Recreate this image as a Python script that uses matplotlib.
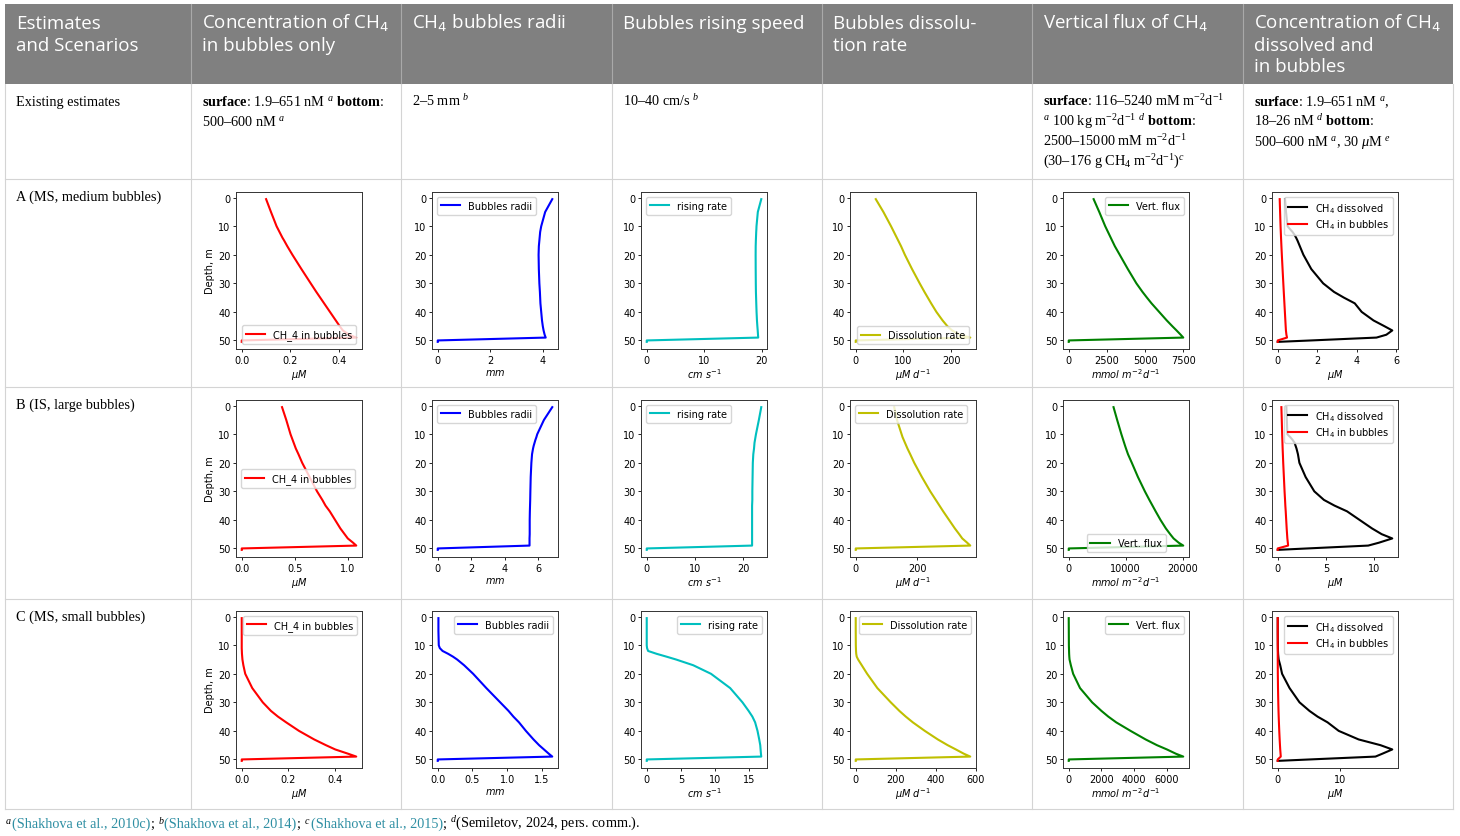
import matplotlib.pyplot as plt

plt.rcParams['mathtext.rm'] = 'Liberation Serif'
plt.rcParams['mathtext.it'] = 'Liberation Serif:italic'
plt.rcParams['mathtext.bf'] = 'Liberation Serif:bold'

# depth grid shared by all profiles, m
depth = [0.5, 5, 10, 11, 12, 13, 14, 15, 17, 20, 25, 30, 33, 35, 37, 40, 43, 45, 46.5, 48, 49, 50, 50.5]

# scenario A (MS, medium bubbles)
a_ch4 = [0.10, 0.12, 0.143, 0.149, 0.155, 0.161, 0.167, 0.174, 0.187, 0.208, 0.245, 0.283, 0.306, 0.322, 0.338, 0.362, 0.386, 0.402, 0.415, 0.44, 0.47, 0.0, 0.0]
a_radii = [4.35, 4.08, 3.93, 3.91, 3.89, 3.88, 3.87, 3.86, 3.84, 3.83, 3.84, 3.86, 3.88, 3.89, 3.90, 3.93, 3.96, 3.99, 4.02, 4.06, 4.10, 0.0, 0.0]
a_rise = [19.9, 19.3, 19.07, 19.05, 19.02, 19.0, 18.98, 18.96, 18.93, 18.92, 18.93, 18.95, 18.97, 19.0, 19.03, 19.08, 19.15, 19.22, 19.28, 19.33, 19.37, 0.0, 0.0]
a_diss = [42, 58, 74, 77, 80, 83, 86, 89, 95, 103, 118, 134, 144, 151, 158, 169, 182, 192, 202, 218, 240, 0, 0]
a_flux = [1630, 2000, 2390, 2480, 2570, 2660, 2750, 2840, 3020, 3340, 3870, 4430, 4830, 5120, 5420, 5920, 6420, 6780, 7060, 7330, 7500, 0, 0]
a_dissolved = [0.37, 0.42, 0.50, 0.62, 0.75, 0.85, 0.93, 1.0, 1.12, 1.30, 1.70, 2.30, 2.85, 3.35, 3.90, 4.25, 4.85, 5.40, 5.80, 5.50, 5.00, 1.70, 0.0]

# scenario B (IS, large bubbles)
b_ch4 = [0.38, 0.42, 0.46, 0.47, 0.48, 0.49, 0.50, 0.51, 0.535, 0.57, 0.64, 0.71, 0.76, 0.79, 0.83, 0.88, 0.93, 0.97, 1.00, 1.05, 1.08, 0.0, 0.0]
b_radii = [6.85, 6.35, 5.95, 5.90, 5.84, 5.79, 5.74, 5.70, 5.64, 5.60, 5.56, 5.54, 5.53, 5.52, 5.51, 5.50, 5.50, 5.50, 5.49, 5.49, 5.49, 0.0, 0.0]
b_rise = [23.7, 23.2, 22.6, 22.5, 22.4, 22.3, 22.25, 22.2, 22.05, 21.95, 21.9, 21.85, 21.85, 21.8, 21.8, 21.8, 21.8, 21.8, 21.8, 21.8, 21.8, 0.0, 0.0]
b_diss = [125, 134, 149, 152, 156, 160, 164, 168, 177, 190, 215, 242, 260, 272, 284, 303, 322, 336, 346, 362, 372, 0, 0]
b_flux = [7860, 8500, 9240, 9400, 9560, 9720, 9880, 10050, 10400, 11070, 12150, 13360, 14150, 14700, 15250, 16100, 17050, 17800, 18400, 19300, 20100, 0, 0]
b_dissolved = [0.90, 0.95, 1.00, 1.30, 1.55, 1.75, 1.85, 1.95, 2.10, 2.25, 2.90, 3.80, 4.80, 5.90, 7.20, 8.50, 9.80, 10.80, 11.90, 10.50, 9.40, 3.10, 0.0]

# scenario C (MS, small bubbles)
c_ch4 = [0.0, 0.0, 0.0, 0.0, 0.0005, 0.001, 0.002, 0.003, 0.007, 0.015, 0.045, 0.09, 0.125, 0.155, 0.19, 0.245, 0.31, 0.36, 0.40, 0.455, 0.49, 0.0, 0.0]
c_radii = [0.01, 0.01, 0.015, 0.03, 0.07, 0.15, 0.22, 0.28, 0.38, 0.51, 0.70, 0.90, 1.02, 1.09, 1.17, 1.27, 1.38, 1.46, 1.53, 1.60, 1.65, 0.0, 0.0]
c_rise = [0.0, 0.0, 0.0, 0.05, 0.2, 1.45, 2.9, 4.3, 6.8, 9.4, 12.2, 14.0, 14.9, 15.45, 15.85, 16.2, 16.45, 16.6, 16.65, 16.7, 16.75, 0.0, 0.0]
c_diss = [0, 0, 0.5, 1, 1.5, 2.5, 5, 12, 30, 57, 108, 175, 218, 250, 285, 345, 410, 459, 500, 540, 572, 0, 0]
c_flux = [0, 5, 10, 15, 20, 25, 35, 50, 130, 270, 690, 1430, 2000, 2420, 2900, 3780, 4700, 5390, 6000, 6550, 7000, 0, 0]
c_dissolved = [0.0, 0.0, 0.02, 0.03, 0.04, 0.06, 0.10, 0.15, 0.40, 0.70, 1.90, 3.50, 5.10, 6.40, 8.00, 9.80, 13.00, 16.50, 18.40, 16.80, 15.70, 5.20, 0.0]

profiles = [
    [a_ch4, a_radii, a_rise, a_diss, a_flux, a_dissolved],
    [b_ch4, b_radii, b_rise, b_diss, b_flux, b_dissolved],
    [c_ch4, c_radii, c_rise, c_diss, c_flux, c_dissolved],
]

xticks = [
    [[0.0, 0.2, 0.4], [0, 2, 4], [0, 10, 20], [0, 100, 200], [0, 2500, 5000, 7500], [0, 2, 4, 6]],
    [[0.0, 0.5, 1.0], [0, 2, 4, 6], [0, 10, 20], [0, 200], [0, 10000, 20000], [0, 5, 10]],
    [[0.0, 0.2, 0.4], [0.0, 0.5, 1.0, 1.5], [0, 5, 10, 15], [0, 200, 400, 600], [0, 2000, 4000, 6000], [0, 10]],
]
legend_locs = [
    ['lower center', 'upper left', 'upper left', 'lower center', 'upper right', 'upper right'],
    ['center left', 'upper left', 'upper left', 'upper left', 'lower center', 'upper right'],
    ['upper right'] * 6,
]

line_colors = ['r', 'b', 'c', 'y', 'g']
line_labels = ['CH_4 in bubbles', 'Bubbles radii', 'rising rate', 'Dissolution rate', 'Vert. flux']
xlabels = [r'$\mu M$', r'$mm$', r'$cm\ s^{-1}$', r'$\mu M\ d^{-1}$', r'$mmol\ m^{-2}d^{-1}$', r'$\mu M$']

headers = [
    ['Estimates', 'and Scenarios'],
    ['Concentration of CH$_4$', 'in bubbles only'],
    ['CH$_4$ bubbles radii'],
    ['Bubbles rising speed'],
    ['Bubbles dissolu-', 'tion rate'],
    ['Vertical flux of CH$_4$'],
    ['Concentration of CH$_4$', 'dissolved and', 'in bubbles'],
]
row_labels = ['Existing estimates', 'A (MS, medium bubbles)', 'B (IS, large bubbles)', 'C (MS, small bubbles)']
existing = [
    [r'$\mathbf{surface}$: 1.9–651 nM $^{a}$ $\mathbf{bottom}$:', r'500–600 nM $^{a}$'],
    [r'2–5 mm $^{b}$'],
    [r'10–40 cm/s $^{b}$'],
    [],
    [r'$\mathbf{surface}$: 116–5240 mM m$^{-2}$d$^{-1}$',
     r'$^{a}$ 100 kg m$^{-2}$d$^{-1}$ $^{d}$ $\mathbf{bottom}$:',
     r'2500–15000 mM m$^{-2}$d$^{-1}$',
     r'(30–176 g CH$_4$ m$^{-2}$d$^{-1}$)$^{c}$'],
    [r'$\mathbf{surface}$: 1.9–651 nM $^{a}$,', r'18–26 nM $^{d}$ $\mathbf{bottom}$:',
     r'500–600 nM $^{a}$, 30 $\mu$M $^{e}$'],
]
teal = '#2f8fa3'
footnote = [('$^{a}$', 'k'), ('(Shakhova et al., 2010c)', teal), (';', 'k'),
            ('$^{b}$', 'k'), ('(Shakhova et al., 2014)', teal), (';', 'k'),
            ('$^{c}$', 'k'), ('(Shakhova et al., 2015)', teal), (';', 'k'),
            ('$^{d}$(Semiletov, 2024, pers. comm.).', 'k')]

W, H = 1460, 837
fig = plt.figure(figsize=(W / 100, H / 100), dpi=100)

# table background drawn in pixel coordinates
tab = fig.add_axes([0, 0, 1, 1])
tab.set_xlim(0, W)
tab.set_ylim(H, 0)
tab.axis('off')

col_x = [5, 191, 401, 612, 822, 1032, 1243, 1453]
row_y = [5, 85, 180, 388, 600, 810]
grid_c = '#d4d4d4'

tab.add_patch(plt.Rectangle((col_x[0], row_y[0]), col_x[-1] - col_x[0], row_y[1] - row_y[0],
                            color='#808080', lw=0))
for x in col_x[1:-1]:
    tab.plot([x, x], [row_y[0], row_y[1]], color='#a9a9a9', lw=0.8)
for x in col_x:
    tab.plot([x, x], [row_y[1], row_y[-1]], color=grid_c, lw=0.8)
for y in row_y[2:]:
    tab.plot([col_x[0], col_x[-1]], [y, y], color=grid_c, lw=0.8)

for i, lines in enumerate(headers):
    for j, s in enumerate(lines):
        tab.text(col_x[i] + 11, 29 + 21.5 * j, s, color='white', fontsize=13.5, family='Open Sans',
                 va='baseline', math_fontfamily='dejavusans')

body = dict(family='Liberation Serif', fontsize=10.3, va='baseline', math_fontfamily='custom')
for k, s in enumerate(row_labels):
    tab.text(col_x[0] + 11, row_y[k + 1] + 21, s, **body)
for i, lines in enumerate(existing):
    for j, s in enumerate(lines):
        tab.text(col_x[i + 1] + 11, 106 + 20 * j, s, **body)

# footnote pieces chained left to right
renderer = fig.canvas.get_renderer()
fx = 5
for s, c in footnote:
    t = tab.text(fx, 828, s, color=c, **body)
    fx += t.get_window_extent(renderer).width
    if s == ';':
        fx += 3.5

# small profile plots
ax_left = [236, 432, 641, 850, 1063, 1272]
ax_top = [193, 401, 612]
ax_w, ax_h = 126, 157
fs = 7.0

for r in range(3):
    for c in range(6):
        ax = fig.add_axes([ax_left[c] / W, 1 - (ax_top[r] + ax_h) / H, ax_w / W, ax_h / H])
        if c < 5:
            ax.plot(profiles[r][c], depth, color=line_colors[c], lw=1.5, label=line_labels[c])
        else:
            ax.plot(profiles[r][5], depth, color='k', lw=1.5, label='CH$_4$ dissolved')
            ax.plot(profiles[r][0], depth, color='r', lw=1.5, label='CH$_4$ in bubbles')
        ax.invert_yaxis()
        ax.set_yticks([0, 10, 20, 30, 40, 50])
        ax.set_xticks(xticks[r][c])
        ax.tick_params(labelsize=fs, length=2.5, width=0.6, pad=1.5)
        for sp in ax.spines.values():
            sp.set_linewidth(0.7)
            sp.set_color('#333333')
        ax.set_xlabel(xlabels[c], fontsize=fs, labelpad=1.5)
        if c == 0:
            ax.set_ylabel('Depth, m', fontsize=fs, labelpad=2)
        ax.legend(loc=legend_locs[r][c], fontsize=fs, handlelength=2, borderpad=0.4,
                  labelspacing=0.3, handletextpad=0.8, borderaxespad=0.5)

fig.savefig('out.png', dpi=100)
